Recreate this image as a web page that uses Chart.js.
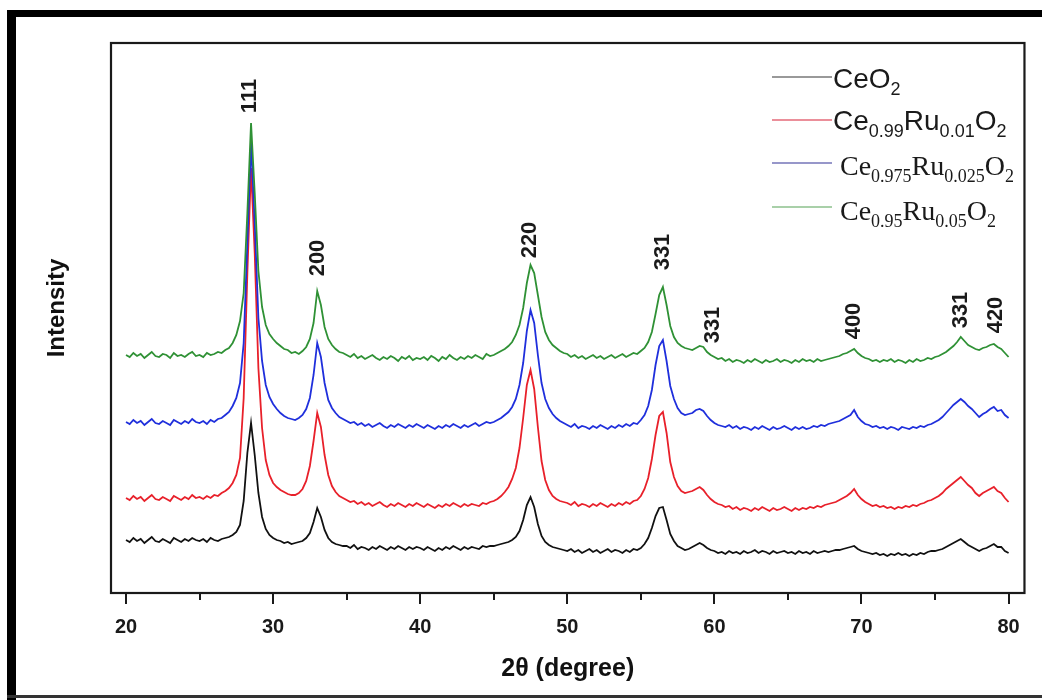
<!DOCTYPE html>
<html><head><meta charset="utf-8">
<script src="https://cdn.jsdelivr.net/npm/chart.js@4"></script>
<style>html,body{margin:0;padding:0;background:#fff;overflow:hidden}</style>
</head><body><canvas id="c" width="1042" height="700"></canvas>
<script>
// 2-theta grid (degrees)
const twoTheta = [
20,20.25,20.5,20.75,21,21.25,21.5,21.75,22,22.25,22.5,22.75,23,23.25,23.5,23.75,24,24.25,24.5,24.75,
25,25.25,25.5,25.75,26,26.25,26.5,26.75,27,27.25,27.5,27.75,28,28.25,28.5,28.75,29,29.25,29.5,29.75,
30,30.25,30.5,30.75,31,31.25,31.5,31.75,32,32.25,32.5,32.75,33,33.25,33.5,33.75,34,34.25,34.5,34.75,
35,35.25,35.5,35.75,36,36.25,36.5,36.75,37,37.25,37.5,37.75,38,38.25,38.5,38.75,39,39.25,39.5,39.75,
40,40.25,40.5,40.75,41,41.25,41.5,41.75,42,42.25,42.5,42.75,43,43.25,43.5,43.75,44,44.25,44.5,44.75,
45,45.25,45.5,45.75,46,46.25,46.5,46.75,47,47.25,47.5,47.75,48,48.25,48.5,48.75,49,49.25,49.5,49.75,
50,50.25,50.5,50.75,51,51.25,51.5,51.75,52,52.25,52.5,52.75,53,53.25,53.5,53.75,54,54.25,54.5,54.75,
55,55.25,55.5,55.75,56,56.25,56.5,56.75,57,57.25,57.5,57.75,58,58.25,58.5,58.75,59,59.25,59.5,59.75,
60,60.25,60.5,60.75,61,61.25,61.5,61.75,62,62.25,62.5,62.75,63,63.25,63.5,63.75,64,64.25,64.5,64.75,
65,65.25,65.5,65.75,66,66.25,66.5,66.75,67,67.25,67.5,67.75,68,68.25,68.5,68.75,69,69.25,69.5,69.75,
70,70.25,70.5,70.75,71,71.25,71.5,71.75,72,72.25,72.5,72.75,73,73.25,73.5,73.75,74,74.25,74.5,74.75,
75,75.25,75.5,75.75,76,76.25,76.5,76.75,77,77.25,77.5,77.75,78,78.25,78.5,78.75,79,79.25,79.5,79.75,
80];

// intensities (arbitrary units, offset traces)
const ceo2 = [
53,51,55,52,54,50,53,56,52,51,54,52,50,55,53,51,54,52,55,53,
52,54,51,55,53,52,54,55,56,58,61,68,92,140,170,138,100,76,64,58,
55,53,52,50,51,49,50,51,52,55,60,71,85,76,63,55,51,49,48,47,
47,45,48,44,46,45,43,46,44,47,45,43,46,44,47,45,43,46,44,46,
45,43,46,44,42,45,43,46,44,47,45,43,46,44,46,45,44,47,46,47,
47,48,49,50,51,53,56,62,73,88,96,86,69,57,51,48,46,45,44,43,
42,44,41,43,40,42,44,41,43,40,42,44,41,43,42,40,43,41,44,43,
45,49,55,65,77,85,86,73,59,52,47,45,43,44,46,48,50,48,45,43,
42,40,41,39,42,40,41,39,42,40,41,43,40,42,41,39,42,40,41,42,
40,41,39,42,40,41,39,42,40,41,42,41,42,43,43,44,45,46,47,44,
42,41,40,39,40,38,39,37,39,38,40,38,39,37,39,38,40,39,41,42,
42,43,44,46,48,50,52,54,51,48,46,44,42,44,45,47,49,46,46,42,
40];
const ru001 = [
95,93,97,94,96,92,95,98,94,93,96,94,92,97,95,93,96,94,98,95,
96,94,97,95,98,97,100,102,105,110,118,135,195,320,425,340,225,165,133,118,
110,106,103,101,99,98,98,100,104,112,127,152,180,166,138,118,107,101,97,95,
93,91,92,89,91,88,90,87,89,91,88,86,89,87,90,88,86,89,87,90,
88,86,89,87,85,88,86,89,87,90,88,86,89,87,89,88,87,90,89,91,
92,94,97,101,106,114,125,145,175,208,223,204,166,132,113,103,97,94,92,91,
90,88,91,87,89,88,86,89,87,90,88,86,89,87,90,88,91,89,92,93,
97,104,115,134,158,177,181,160,131,116,107,102,100,101,102,104,106,103,98,94,
91,89,88,86,87,84,86,83,85,84,82,85,83,86,84,82,85,83,84,86,
84,82,85,83,85,84,86,85,87,86,88,89,90,91,93,95,97,100,104,98,
94,91,89,87,88,86,87,85,86,84,86,85,87,86,88,87,89,90,92,93,
95,97,100,104,107,110,113,116,112,108,105,100,97,100,102,104,106,102,100,95,
91];
const ru0025 = [
171,169,173,170,172,168,171,174,170,169,172,170,168,173,171,169,172,170,174,171,
170,172,169,173,171,174,175,178,181,187,195,210,250,350,450,370,275,232,208,196,
189,184,180,177,175,174,173,175,178,184,195,218,250,236,210,193,185,180,176,174,
172,170,171,168,170,167,169,166,168,170,167,165,168,166,169,167,165,168,166,169,
167,165,168,166,164,167,165,168,166,169,167,165,168,166,168,170,167,169,171,170,
171,173,175,178,181,186,194,208,230,262,283,270,238,210,194,185,179,175,172,170,
168,166,169,165,167,166,164,167,165,168,166,164,167,165,168,166,169,167,170,169,
173,178,187,203,228,247,253,232,207,194,185,180,178,179,180,183,184,182,177,173,
170,168,167,166,168,165,167,164,166,165,163,166,164,167,165,163,166,164,165,167,
165,163,166,164,166,164,165,167,166,168,167,169,170,171,172,174,176,178,183,176,
172,169,168,166,167,165,166,164,166,165,163,166,165,164,166,165,167,166,168,169,
171,173,176,180,184,188,191,194,191,187,184,180,176,179,181,184,186,182,183,178,
175];
const ru005 = [
238,236,240,237,239,235,238,241,237,236,239,238,235,240,237,238,236,239,241,237,
238,236,240,238,239,241,240,243,245,250,258,272,300,380,470,400,322,286,268,259,
254,250,247,244,243,240,241,239,242,246,254,270,302,288,266,254,248,244,241,240,
238,236,239,235,237,234,236,238,235,233,236,234,237,235,232,236,234,237,233,235,
234,236,233,237,235,232,236,234,238,235,233,236,234,237,235,238,236,234,239,237,
238,240,242,244,247,251,258,268,285,310,328,320,298,276,261,253,248,245,242,240,
239,236,238,235,237,234,236,238,235,237,234,236,238,235,237,239,236,238,240,239,
242,245,251,261,279,298,306,288,267,256,250,247,245,244,243,245,247,246,241,238,
236,234,235,232,234,231,233,232,230,233,231,234,232,230,233,231,232,234,231,233,
232,230,233,231,234,232,233,231,234,232,233,234,235,236,237,239,240,242,244,240,
237,235,234,232,233,231,233,232,234,231,233,232,230,233,231,234,232,233,235,234,
236,237,239,241,244,247,251,256,252,248,246,244,243,245,246,248,249,246,244,240,
236];

const seriesNames = ['CeO2','Ce0.99Ru0.01O2','Ce0.975Ru0.025O2','Ce0.95Ru0.05O2'];
const legendParts = [
  [['CeO',0],['2',1]],
  [['Ce',0],['0.99',1],['Ru',0],['0.01',1],['O',0],['2',1]],
  [['Ce',0],['0.975',1],['Ru',0],['0.025',1],['O',0],['2',1]],
  [['Ce',0],['0.95',1],['Ru',0],['0.05',1],['O',0],['2',1]]
];
const xTickValues = [20,30,40,50,60,70,80];
const xMinorTicks = [25,35,45,55,65,75];
const peakLabels  = ['111','200','220','331','331','400','331','420'];
const peakAngles  = [28.4,33.04,47.45,56.48,59.88,69.52,76.79,79.17];
const peakHeights = [497,335,353,341,268,272,283,278];

const lineColors   = ['#111111','#e8202a','#1f2fdc','#2f9135'];
const legendColors = ['#777777','#e46a78','#7474b8','#8cc08c'];
const legendFonts  = ['Liberation Sans','Liberation Sans','Liberation Serif','Liberation Serif'];

const seriesValues = [ceo2, ru001, ru0025, ru005];
const mk = arr => twoTheta.map((t,i)=>({x:t,y:arr[i]}));

// draw order: index 0 on top -> green first
const datasets = [3,2,1,0].map(k => ({
  label: seriesNames[k],
  data: mk(seriesValues[k]),
  borderColor: lineColors[k],
  borderWidth: 1.8,
  pointRadius: 0,
  tension: 0,
  fill: false
}));

function drawRich(ctx, x, y, parts, family, size, subSize, drop){
  let cx = x;
  for (const [t, sub] of parts){
    ctx.font = (sub?subSize:size) + 'px "' + family + '"';
    ctx.fillText(t, cx, sub ? y + drop : y);
    cx += ctx.measureText(t).width;
  }
}

const decor = {
  id:'decor',
  beforeDraw(chart){
    const ctx = chart.ctx;
    ctx.save();
    ctx.fillStyle = '#fff';
    ctx.fillRect(0,0,chart.width,chart.height);
    ctx.fillStyle = '#000';
    ctx.fillRect(8,10,1034,7);
    ctx.fillRect(7,10,9,690);
    ctx.fillStyle = '#333';
    ctx.fillRect(7,695,1035,3);
    ctx.restore();
  },
  afterDraw(chart){
    const ctx = chart.ctx, a = chart.chartArea;
    const xs = chart.scales.x, ys = chart.scales.y;
    ctx.save();
    // plot frame
    ctx.strokeStyle = '#1a1a1a';
    ctx.lineWidth = 2.2;
    ctx.strokeRect(a.left, a.top, a.right - a.left, a.bottom - a.top);
    // ticks
    ctx.lineWidth = 2;
    ctx.strokeStyle = '#1a1a1a';
    ctx.beginPath();
    xTickValues.forEach(v => { const p = Math.round(xs.getPixelForValue(v)); ctx.moveTo(p, a.bottom); ctx.lineTo(p, a.bottom + 11); });
    xMinorTicks.forEach(v => { const p = Math.round(xs.getPixelForValue(v)); ctx.moveTo(p, a.bottom); ctx.lineTo(p, a.bottom + 7); });
    ctx.stroke();
    // axis titles
    ctx.fillStyle = '#111';
    ctx.font = 'bold 25px "Liberation Sans"';
    ctx.textAlign = 'center';
    ctx.textBaseline = 'alphabetic';
    ctx.fillText('2\u03B8 (degree)', (a.left + a.right)/2, 676);
    ctx.save();
    ctx.translate(64, 308);
    ctx.rotate(-Math.PI/2);
    ctx.font = 'bold 24px "Liberation Sans"';
    ctx.fillText('Intensity', 0, 0);
    ctx.restore();
    // peak labels
    ctx.font = 'bold 22px "Liberation Sans"';
    ctx.textBaseline = 'middle';
    ctx.fillStyle = '#1a1a1a';
    peakLabels.forEach((t,i) => {
      ctx.save();
      ctx.translate(xs.getPixelForValue(peakAngles[i]), ys.getPixelForValue(peakHeights[i]));
      ctx.rotate(-Math.PI/2);
      ctx.fillText(t, 0, 0);
      ctx.restore();
    });
    // legend
    const ly = [77,120,163,207], tb = [88,130,175,220], tx = [833,833,840,840];
    ctx.textAlign = 'left';
    ctx.textBaseline = 'alphabetic';
    for (let k = 0; k < 4; k++){
      ctx.strokeStyle = legendColors[k];
      ctx.lineWidth = 1.3;
      ctx.beginPath(); ctx.moveTo(772, ly[k]); ctx.lineTo(832, ly[k]); ctx.stroke();
      ctx.fillStyle = '#1a1a1a';
      drawRich(ctx, tx[k], tb[k], legendParts[k], legendFonts[k], 28, 18, 7);
    }
    ctx.restore();
  }
};

new Chart(document.getElementById('c'), {
  type:'line',
  data:{ datasets },
  options:{
    responsive:false,
    animation:false,
    devicePixelRatio:1,
    layout:{ padding:{ left:111, top:43, right:17, bottom:0 } },
    plugins:{ legend:{display:false}, tooltip:{enabled:false} },
    scales:{
      x:{
        type:'linear', min:18.98, max:81.08,
        grid:{ display:false, drawTicks:false },
        border:{ display:false },
        ticks:{ color:'#1a1a1a', padding:22, font:{ family:'Liberation Sans', size:20, weight:'bold' } },
        afterBuildTicks(s){ s.ticks = xTickValues.map(v => ({value:v})); },
        afterFit(s){ s.height = 107; }
      },
      y:{ display:false, min:0, max:550 }
    }
  },
  plugins:[decor]
});
</script></body></html>
